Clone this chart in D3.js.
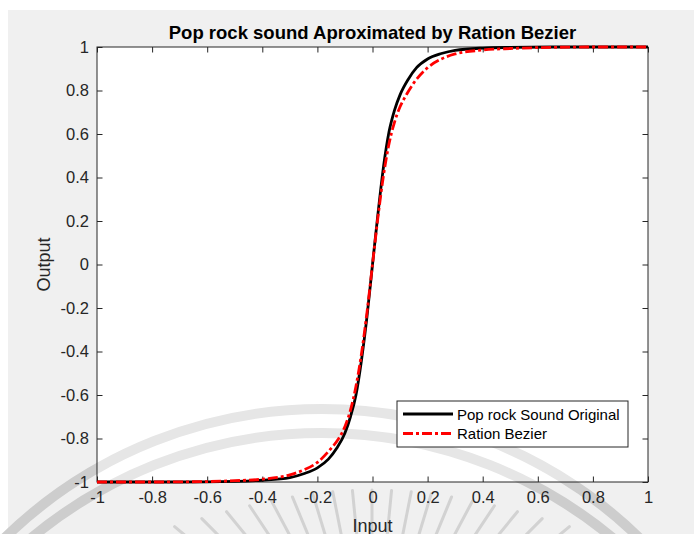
<!DOCTYPE html>
<html>
<head>
<meta charset="utf-8">
<script src="https://cdn.jsdelivr.net/npm/d3@7"></script>
<style>
  html, body { margin: 0; padding: 0; background: #ffffff; }
  svg { display: block; }
  text { font-family: "Liberation Sans", Arial, Helvetica, sans-serif; }
</style>
</head>
<body>
<svg id="chart" width="694" height="534"></svg>
<script>
// Axis ticks and labels
const xTicks = [-1, -0.8, -0.6, -0.4, -0.2, 0, 0.2, 0.4, 0.6, 0.8, 1];
const xTickLabels = ["-1", "-0.8", "-0.6", "-0.4", "-0.2", "0", "0.2", "0.4", "0.6", "0.8", "1"];
const yTicks = [-1, -0.8, -0.6, -0.4, -0.2, 0, 0.2, 0.4, 0.6, 0.8, 1];
const yTickLabels = ["-1", "-0.8", "-0.6", "-0.4", "-0.2", "0", "0.2", "0.4", "0.6", "0.8", "1"];

// Series names
const seriesNames = ["Pop rock Sound Original", "Ration Bezier"];

// Original pop rock transfer curve (input -> output)
const originalIn = [-1, -0.7, -0.5, -0.4, -0.3, -0.25, -0.2, -0.16, -0.13, -0.1, -0.08, -0.06, -0.04, -0.02,
  0, 0.02, 0.04, 0.06, 0.08, 0.1, 0.13, 0.16, 0.2, 0.25, 0.3, 0.4, 0.5, 0.7, 1];
const originalOut = [-1, -1, -0.997, -0.992, -0.98, -0.962, -0.935, -0.895, -0.845, -0.775, -0.7, -0.6, -0.44, -0.24,
  0, 0.235, 0.45, 0.61, 0.71, 0.78, 0.852, 0.905, 0.945, 0.97, 0.985, 0.995, 0.998, 1, 1];

// Rational Bezier approximation of the same curve
const bezierIn = [-1, -0.8, -0.6, -0.5, -0.4, -0.3, -0.25, -0.2, -0.15, -0.125, -0.1, -0.08, -0.06, -0.04, -0.02,
  0, 0.02, 0.04, 0.06, 0.08, 0.1, 0.125, 0.15, 0.2, 0.25, 0.3, 0.4, 0.5, 0.6, 0.8, 1];
const bezierOut = [-1, -1, -0.998, -0.994, -0.987, -0.967, -0.945, -0.91, -0.845, -0.805, -0.745, -0.67, -0.56, -0.41, -0.22,
  0, 0.22, 0.41, 0.555, 0.655, 0.725, 0.785, 0.835, 0.905, 0.945, 0.968, 0.986, 0.993, 0.997, 1, 1];

const svg = d3.select("#chart");
const axisColor = "#262626";

// Figure background
svg.append("rect").attr("x", 8).attr("y", 10).attr("width", 686).attr("height", 524).attr("fill", "#f0f0f0");

// Plot box
const boxL = 97, boxR = 648, boxT = 47, boxB = 482;
const x = d3.scaleLinear().domain([-1, 1]).range([boxL, boxR]);
const y = d3.scaleLinear().domain([-1, 1]).range([boxB, boxT]);

// Faint seal behind the figure: two arcs and a fan of rays
function sealArcs(g, color) {
  const arcs = [{ cx: 322, cy: 864, r: 455 }, { cx: 322, cy: 888, r: 455 }];
  arcs.forEach(a => {
    g.append("circle").attr("cx", a.cx).attr("cy", a.cy).attr("r", a.r)
      .attr("fill", "none").attr("stroke", color).attr("stroke-width", 10);
  });
}
const seal = svg.append("g");
sealArcs(seal, "#cdcdcd");
const rayAngles = d3.range(-56, 57, 5.6);
rayAngles.forEach(a => {
  const t = a * Math.PI / 180;
  const cx = 372, cy = 690;
  const rOut = 200 / Math.pow(Math.cos(t), 0.55);
  const rIn = rOut - 75;
  seal.append("line")
    .attr("x1", cx + rIn * Math.sin(t)).attr("y1", cy - rIn * Math.cos(t))
    .attr("x2", cx + rOut * Math.sin(t)).attr("y2", cy - rOut * Math.cos(t))
    .attr("stroke", "#d2d2d2").attr("stroke-width", 3).attr("stroke-linecap", "round");
});

svg.append("rect").attr("x", boxL).attr("y", boxT).attr("width", boxR - boxL).attr("height", boxB - boxT)
  .attr("fill", "#ffffff");

svg.append("clipPath").attr("id", "plotClip").append("rect")
  .attr("x", boxL).attr("y", boxT).attr("width", boxR - boxL).attr("height", boxB - boxT);
const inner = svg.append("g").attr("clip-path", "url(#plotClip)");
sealArcs(inner, "#e6e6e6");

// Axes: ticks point inward on all four sides
const tick = 5.5;
const gB = svg.append("g").attr("transform", `translate(0,${boxB})`)
  .call(d3.axisBottom(x).tickValues(xTicks).tickFormat((d, i) => xTickLabels[i])
    .tickSizeInner(-tick).tickSizeOuter(0).tickPadding(9));
const gT = svg.append("g").attr("transform", `translate(0,${boxT})`)
  .call(d3.axisTop(x).tickValues(xTicks).tickFormat("").tickSizeInner(-tick).tickSizeOuter(0));
const gL = svg.append("g").attr("transform", `translate(${boxL},0)`)
  .call(d3.axisLeft(y).tickValues(yTicks).tickFormat((d, i) => yTickLabels[i])
    .tickSizeInner(-tick).tickSizeOuter(0).tickPadding(8));
const gR = svg.append("g").attr("transform", `translate(${boxR},0)`)
  .call(d3.axisRight(y).tickValues(yTicks).tickFormat("").tickSizeInner(-tick).tickSizeOuter(0));
[gB, gT, gL, gR].forEach(g => {
  g.select(".domain").remove();
  g.selectAll("line").attr("stroke", axisColor).attr("stroke-width", 1);
  g.selectAll("text").attr("fill", axisColor).style("font-size", "16.5px")
    .style("font-family", "'Liberation Sans', Arial, sans-serif");
});
svg.append("rect").attr("x", boxL).attr("y", boxT).attr("width", boxR - boxL).attr("height", boxB - boxT)
  .attr("fill", "none").attr("stroke", axisColor).attr("stroke-width", 1);

// Curves
const line = d3.line().x(d => x(d[0])).y(d => y(d[1])).curve(d3.curveMonotoneX);
const originalPts = originalIn.map((v, i) => [v, originalOut[i]]);
const bezierPts = bezierIn.map((v, i) => [v, bezierOut[i]]);
const blackStyle = { stroke: "#000000", width: 2.8, dash: null };
const redStyle = { stroke: "#ff0000", width: 2.8, dash: "10,3,3,3" };

svg.append("path").datum(originalPts).attr("d", line).attr("fill", "none")
  .attr("stroke", blackStyle.stroke).attr("stroke-width", blackStyle.width);
svg.append("path").datum(bezierPts).attr("d", line).attr("fill", "none")
  .attr("stroke", redStyle.stroke).attr("stroke-width", redStyle.width)
  .attr("stroke-dasharray", redStyle.dash);

// Title and axis labels
svg.append("text").attr("x", (boxL + boxR) / 2).attr("y", 38.5).attr("text-anchor", "middle")
  .style("font-size", "18.5px").style("font-weight", "bold").attr("fill", "#000")
  .text("Pop rock sound Aproximated by Ration Bezier");
svg.append("text").attr("x", (boxL + boxR) / 2).attr("y", 531.5).attr("text-anchor", "middle")
  .style("font-size", "18px").attr("fill", axisColor).text("Input");
svg.append("text").attr("transform", `translate(50,${(boxT + boxB) / 2}) rotate(-90)`)
  .attr("text-anchor", "middle").style("font-size", "18px").attr("fill", axisColor).text("Output");

// Legend
const lg = svg.append("g");
lg.append("rect").attr("x", 397).attr("y", 401).attr("width", 231).attr("height", 46)
  .attr("fill", "#ffffff").attr("stroke", axisColor).attr("stroke-width", 1);
[blackStyle, redStyle].forEach((s, i) => {
  const yy = 414 + i * 19.5;
  lg.append("line").attr("x1", 403).attr("x2", 453).attr("y1", yy).attr("y2", yy)
    .attr("stroke", s.stroke).attr("stroke-width", s.width).attr("stroke-dasharray", s.dash);
  lg.append("text").attr("x", 457).attr("y", yy + 5.5).style("font-size", "15px")
    .attr("fill", "#000").text(seriesNames[i]);
});
</script>
</body>
</html>
